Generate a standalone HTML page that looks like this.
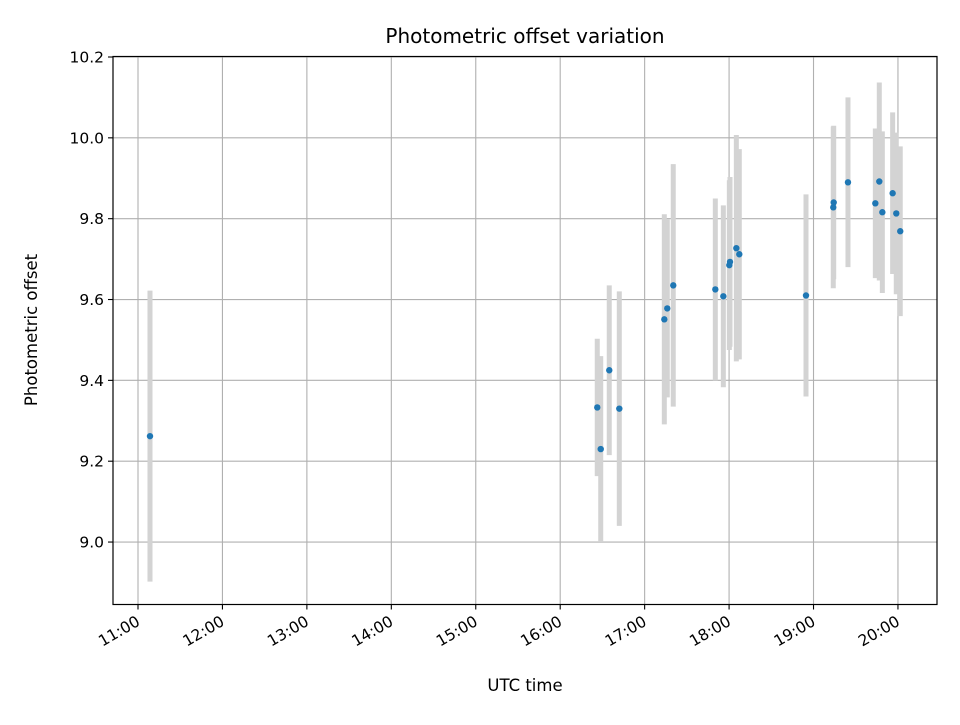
<!DOCTYPE html>
<html><head><meta charset="utf-8"><style>
body{margin:0;background:#fff;}
svg text{font-family:"DejaVu Sans","Liberation Sans",sans-serif;fill:#000;}
</style></head><body>
<svg id="chart" width="960" height="720" viewBox="0 0 960 720" xmlns="http://www.w3.org/2000/svg">
<rect x="0" y="0" width="960" height="720" fill="#fff"/>
<g id="grid"></g>
<g id="errs"></g>
<g id="pts"></g>
<rect x="113" y="56.5" width="824" height="548" fill="none" stroke="#000" stroke-width="1.2"/>
<g id="xt"></g>
<g id="yt"></g>
<text x="525" y="43" font-size="20" text-anchor="middle">Photometric offset variation</text>
<text x="525" y="691" font-size="16.5" text-anchor="middle">UTC time</text>
<text x="37" y="330" font-size="16.5" text-anchor="middle" transform="rotate(-90 37 330)">Photometric offset</text>
</svg>
<script>
const times=[11.142,16.439,16.480,16.581,16.700,17.233,17.268,17.339,17.837,17.932,18.003,18.011,18.086,18.121,18.911,19.234,19.239,19.408,19.732,19.779,19.815,19.937,19.980,20.027];
const values=[9.262,9.333,9.230,9.425,9.330,9.551,9.578,9.635,9.625,9.608,9.685,9.693,9.727,9.712,9.610,9.828,9.840,9.890,9.838,9.892,9.816,9.863,9.813,9.769];
const errors=[0.36,0.17,0.23,0.21,0.29,0.26,0.22,0.30,0.225,0.225,0.21,0.21,0.28,0.26,0.25,0.20,0.19,0.21,0.185,0.245,0.20,0.20,0.20,0.21];
const xTickHours=[11,12,13,14,15,16,17,18,19,20];
const xTickLabels=["11:00","12:00","13:00","14:00","15:00","16:00","17:00","18:00","19:00","20:00"];
const yTicks=[9.0,9.2,9.4,9.6,9.8,10.0,10.2];
const yTickLabels=["9.0","9.2","9.4","9.6","9.8","10.0","10.2"];
const NS="http://www.w3.org/2000/svg";
const L=113,R=937,T=56.5,B=604.5;
const xs=h=>138+(h-11)*84.44;
const ys=v=>57+(10.2-v)*404.2;
function mk(tag,attrs,parent){const e=document.createElementNS(NS,tag);for(const k in attrs)e.setAttribute(k,attrs[k]);document.getElementById(parent).appendChild(e);return e;}
xTickHours.forEach((h,i)=>{
  const x=xs(h);
  const g=mk('line',{x1:x,x2:x,y1:T,y2:B,stroke:'#b0b0b0','stroke-width':1.1},'grid');
  
  
  const t=mk('line',{x1:x,x2:x,y1:B,y2:B+5,stroke:'#000','stroke-width':1.1},'xt');
  
  
  const tx=mk('text',{x:x+3,y:B+20,'font-size':15.5,'text-anchor':'end',transform:`rotate(-30 ${x+3} ${B+20})`},'xt');
  tx.textContent=xTickLabels[i];
  
  
});
yTicks.forEach((v,i)=>{
  const y=ys(v);
  const g=mk('line',{x1:L,x2:R,y1:y,y2:y,stroke:'#b0b0b0','stroke-width':1.1},'grid');
  
  
  const t=mk('line',{x1:L-5,x2:L,y1:y,y2:y,stroke:'#000','stroke-width':1.1},'yt');
  
  
  const tx=mk('text',{x:L-9,y:y+5.5,'font-size':15.5,'text-anchor':'end'},'yt');
  tx.textContent=yTickLabels[i];
  
  
});
times.forEach((h,i)=>{
  const x=xs(h);
  const e=mk('line',{x1:x,x2:x,y1:ys(values[i]+errors[i]),y2:ys(values[i]-errors[i]),stroke:'#d3d3d3','stroke-width':5},'errs');
  
  
  const c=mk('circle',{cx:x,cy:ys(values[i]),r:3.2,fill:'#1f77b4'},'pts');
  
  
});
</script>
</body></html>
